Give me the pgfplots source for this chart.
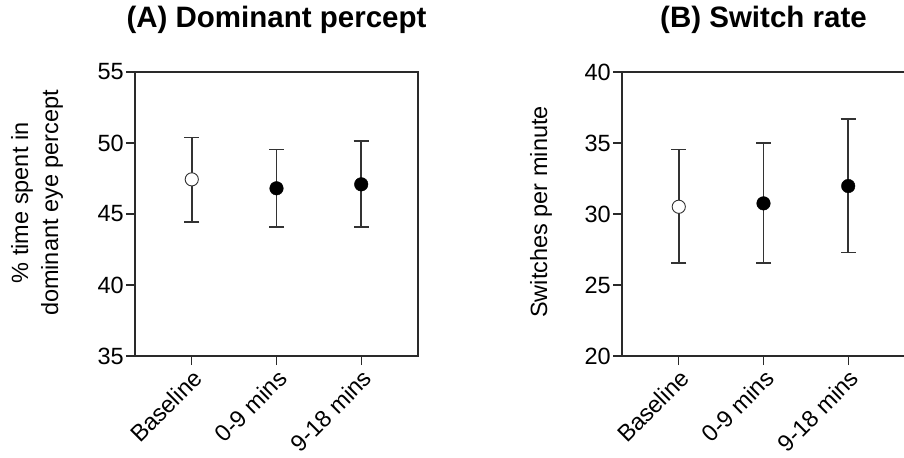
\documentclass[border=0pt]{standalone}
\usepackage{pgfplots}
\pgfplotsset{compat=1.18}
\usepackage{pgfplotstable}
\usepackage{fontspec}
\setmainfont{Liberation Sans}
\newcommand{\fs}{\fontsize{23.5bp}{30bp}\selectfont}
\newcommand{\ft}{\fontsize{29.5bp}{34bp}\selectfont}
\definecolor{axgray}{HTML}{2A2A2A}
\definecolor{ebgray}{HTML}{333333}

\pgfplotstableread{
x y ep em
1 47.44 2.94 3.00
2 46.81 2.74 2.73
3 47.09 3.03 3.01
}\dataA
\pgfplotstableread{
x y ep em
1 30.51 4.02 3.98
2 30.75 4.27 4.22
3 31.97 4.72 4.67
}\dataB

\pgfplotsset{myax/.style={
  scale only axis, width=283bp, height=284bp,
  xmin=0.33, xmax=3.67,
  xtick={1,2,3}, xticklabels={Baseline,0-9 mins,9-18 mins},
  xtick pos=bottom, ytick pos=left, tick align=outside,
  major tick length=9bp,
  axis line style={line width=1.4bp, draw=axgray},
  every tick/.style={line width=1.4bp, axgray},
  xticklabel style={rotate=45, anchor=north east, font=\fs, inner sep=2bp},
  yticklabel style={font=\fs, inner sep=2bp},
  ylabel style={font=\fs, align=center},
  title style={font=\bfseries\ft, at={(axis description cs:0.5,1)}, anchor=base, yshift=39bp},
  /pgf/number format/assume math mode=true,
  clip=false,
}}

\begin{document}
\begin{tikzpicture}
\path[use as bounding box] (0bp,0bp) rectangle (904bp,-458bp);
\begin{axis}[myax, at={(135bp,-356bp)}, anchor=south west,
  ymin=35, ymax=55, ytick={35,40,45,50,55},
  title={(A) Dominant percept},
  ylabel={\% time spent in\\dominant eye percept},
  ylabel style={at={(axis description cs:-0.346,0.539)}, anchor=center, rotate=0},
]
\addplot[draw=none, mark=none, error bars/.cd, y dir=both, y explicit,
  error mark options={rotate=90, line width=1.6bp, ebgray, mark size=7.5bp},
  error bar style={line width=1.6bp, ebgray}]
  table[x=x, y=y, y error plus=ep, y error minus=em] {\dataA};
\addplot[only marks, mark=*, mark size=6.6bp, mark options={fill=white, draw=ebgray, line width=0.9bp}]
  coordinates {(1,47.44)};
\addplot[only marks, mark=*, mark size=6.8bp, mark options={fill=black, draw=black}]
  coordinates {(2,46.81) (3,47.09)};
\end{axis}
\begin{axis}[myax, at={(622bp,-356bp)}, anchor=south west,
  ymin=20, ymax=40, ytick={20,25,30,35,40},
  title={(B) Switch rate},
  ylabel={Switches per minute},
  ylabel style={at={(axis description cs:-0.286,0.507)}, anchor=center, rotate=0},
]
\addplot[draw=none, mark=none, error bars/.cd, y dir=both, y explicit,
  error mark options={rotate=90, line width=1.6bp, ebgray, mark size=7.5bp},
  error bar style={line width=1.6bp, ebgray}]
  table[x=x, y=y, y error plus=ep, y error minus=em] {\dataB};
\addplot[only marks, mark=*, mark size=6.6bp, mark options={fill=white, draw=ebgray, line width=0.9bp}]
  coordinates {(1,30.51)};
\addplot[only marks, mark=*, mark size=6.8bp, mark options={fill=black, draw=black}]
  coordinates {(2,30.75) (3,31.97)};
\end{axis}
\end{tikzpicture}
\end{document}
